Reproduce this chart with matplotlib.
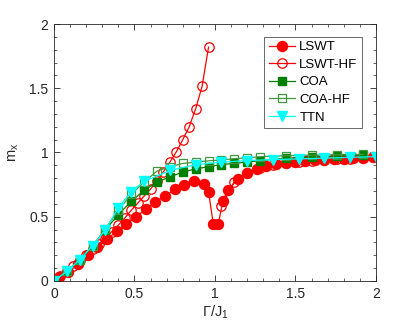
import numpy as np
import matplotlib
matplotlib.use("Agg")
import matplotlib.pyplot as plt
from matplotlib.ticker import MultipleLocator, FuncFormatter

plt.rcParams['font.family'] = ['Liberation Sans', 'DejaVu Sans']
plt.rcParams['mathtext.fontset'] = 'custom'
plt.rcParams['mathtext.rm'] = 'Liberation Sans'
plt.rcParams['mathtext.it'] = 'Liberation Sans'

# LSWT (filled circles)
lswt_x = [0.0, 0.03, 0.09, 0.15, 0.21, 0.27, 0.33, 0.39, 0.45, 0.51, 0.57, 0.63, 0.69,
          0.75, 0.81, 0.87, 0.93, 0.96, 0.99, 1.02, 1.05, 1.08, 1.14, 1.20, 1.26, 1.32,
          1.38, 1.44, 1.50, 1.56, 1.62, 1.68, 1.74, 1.80, 1.86, 1.92, 1.98]
lswt_y = [0.0, 0.03, 0.07, 0.13, 0.20, 0.265, 0.325, 0.388, 0.443, 0.50, 0.558, 0.617, 0.66,
          0.713, 0.748, 0.775, 0.758, 0.695, 0.44, 0.44, 0.625, 0.708, 0.79, 0.843, 0.875, 0.895,
          0.91, 0.92, 0.928, 0.934, 0.94, 0.945, 0.95, 0.953, 0.957, 0.96, 0.963]

# LSWT-HF (open circles); NaN separates the two branches
lswthf_x = [0.0, 0.04, 0.08, 0.12, 0.16, 0.20, 0.24, 0.28, 0.32, 0.36, 0.40, 0.44, 0.48,
            0.52, 0.56, 0.60, 0.64, 0.68, 0.72, 0.76, 0.80, 0.84, 0.88, 0.92, 0.96,
            1.00, 1.04, 1.12, 1.20, 1.28, 1.36, 1.44, 1.52, 1.60, 1.68, 1.76, 1.84, 1.92, 2.0]
lswthf_y = [0.0, 0.04, 0.08, 0.12, 0.16, 0.20, 0.245, 0.29, 0.33, 0.385, 0.435, 0.49, 0.55,
            0.605, 0.66, 0.715, 0.78, 0.85, 0.925, 1.005, 1.10, 1.20, 1.34, 1.515, 1.82,
            np.nan, 0.58, 0.773, 0.84, 0.88, 0.905, 0.918, 0.928, 0.935, 0.942, 0.948, 0.953, 0.958, 0.962]

# COA (filled squares)
coa_x = [0.0, 0.08, 0.16, 0.24, 0.32, 0.40, 0.48, 0.56, 0.64, 0.72, 0.80, 0.88, 0.96,
         1.04, 1.12, 1.20, 1.28, 1.44, 1.60, 1.76, 1.92]
coa_y = [0.0, 0.075, 0.16, 0.27, 0.40, 0.515, 0.62, 0.705, 0.77, 0.81, 0.848, 0.872, 0.89,
         0.905, 0.916, 0.925, 0.937, 0.955, 0.965, 0.972, 0.98]

# COA-HF (open squares)
coahf_x = [0.0, 0.08, 0.16, 0.24, 0.32, 0.40, 0.48, 0.56, 0.64, 0.72, 0.80, 0.88, 0.96,
           1.04, 1.12, 1.20, 1.28, 1.44, 1.60, 1.76, 1.92]
coahf_y = [0.0, 0.075, 0.165, 0.275, 0.405, 0.55, 0.675, 0.77, 0.855, 0.89, 0.915, 0.925, 0.935,
           0.942, 0.952, 0.958, 0.967, 0.975, 0.979, 0.982, 0.985]

# TTN (triangles)
ttn_x = [0.0, 0.08, 0.16, 0.24, 0.32, 0.40, 0.48, 0.56, 0.72, 0.88, 1.04, 1.20, 1.36,
         1.52, 1.68, 1.84, 2.0]
ttn_y = [0.0, 0.075, 0.165, 0.275, 0.40, 0.57, 0.695, 0.775, 0.86, 0.905, 0.925, 0.937, 0.945,
         0.95, 0.956, 0.962, 0.968]

fig = plt.figure(figsize=(4.15, 3.29), dpi=100)
ax = fig.add_axes([0.130, 0.146, 0.776, 0.781])

green = (0.0, 0.5, 0.0)
green_l = (0.25, 0.6, 0.25)

ax.plot(lswt_x, lswt_y, '-o', color='red', mfc='red', mec='red', ms=7.2, lw=0.9, label='LSWT')
ax.plot(lswthf_x, lswthf_y, '-o', color='red', mfc='none', mec='red', ms=6.8, mew=0.9, lw=0.9, label='LSWT-HF')
ax.plot(coa_x, coa_y, '-s', color=green, mfc=green, mec=green, ms=5.2, lw=0.9, label='COA')
ax.plot(coahf_x, coahf_y, '-s', color=green_l, mfc='none', mec=green_l, ms=5.2, mew=0.9, lw=0.9, label='COA-HF')
ax.plot(ttn_x, ttn_y, '-v', color='cyan', mfc='cyan', mec='cyan', ms=7.0, lw=0.9, label='TTN')

ax.set_xlim(0, 2)
ax.set_ylim(0, 2)
ax.xaxis.set_major_locator(MultipleLocator(0.5))
ax.yaxis.set_major_locator(MultipleLocator(0.5))
ax.xaxis.set_minor_locator(MultipleLocator(0.1))
ax.yaxis.set_minor_locator(MultipleLocator(0.1))
ax.xaxis.set_major_formatter(FuncFormatter(lambda v, p: '%g' % v))
ax.yaxis.set_major_formatter(FuncFormatter(lambda v, p: '%g' % v))

axc = (0.15, 0.15, 0.15)
ax.tick_params(which='both', direction='in', top=True, right=True, colors=axc, labelsize=10, pad=4)
ax.tick_params(which='major', length=4, width=0.6)
ax.tick_params(which='minor', length=2, width=0.5)
for s in ax.spines.values():
    s.set_color(axc)
    s.set_linewidth(0.6)

ax.set_xlabel('Γ/J$_1$', fontsize=10.5, color=axc, labelpad=2)
ax.set_ylabel('m$_x$', fontsize=10.5, color=axc, labelpad=6)

leg = ax.legend(loc='upper right', bbox_to_anchor=(0.957, 0.951), fontsize=9.5,
                frameon=True, fancybox=False, edgecolor=axc, handlelength=2.0,
                borderpad=0.35, labelspacing=0.4, handletextpad=0.3, borderaxespad=0)
leg.get_frame().set_linewidth(0.6)

fig.savefig('out.png', dpi=100)
